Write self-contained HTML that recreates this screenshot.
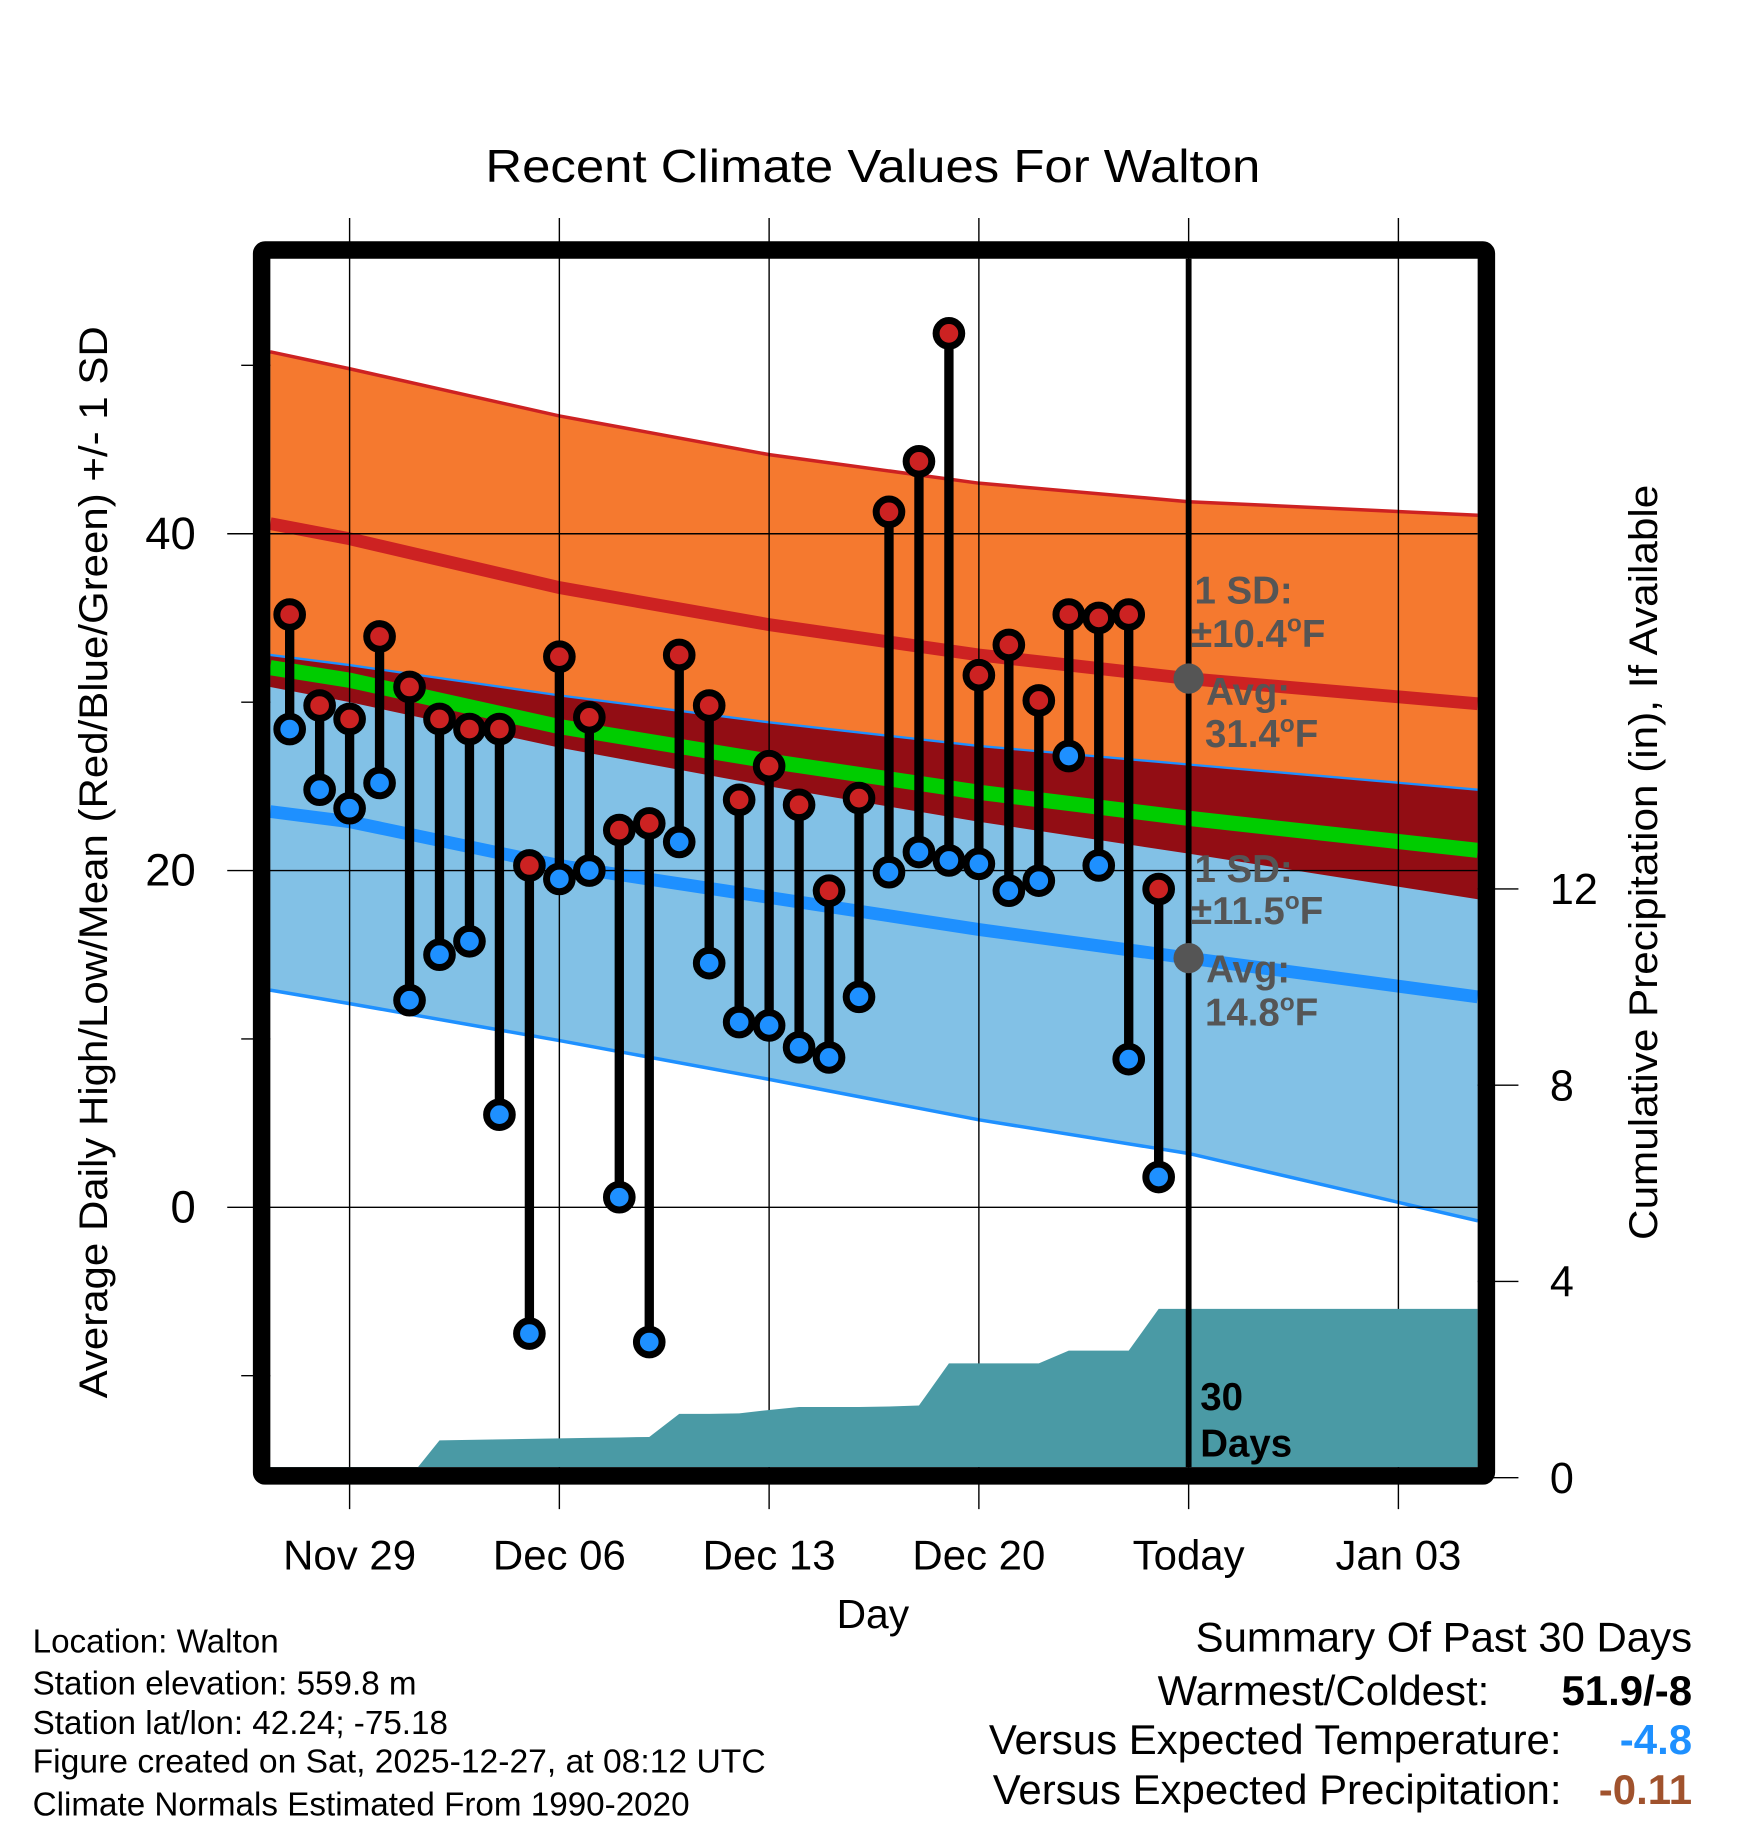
<!DOCTYPE html>
<html><head><meta charset="utf-8"><style>
html,body{margin:0;padding:0;background:#fff}
svg{display:block;font-family:"Liberation Sans",sans-serif}
</style></head><body>
<svg id="chart" width="1748" height="1828" viewBox="0 0 1500 1568.6" xmlns="http://www.w3.org/2000/svg">
<g id="bands"></g>
<g id="grid"></g>
<g id="precip"></g>
<g id="marks"></g>
<g id="frame"></g>
<g id="labels"></g>
<text x="749" y="156" font-size="40" text-anchor="middle" textLength="665" lengthAdjust="spacingAndGlyphs">Recent Climate Values For Walton</text>
<text transform="translate(92,740) rotate(-90)" font-size="34" text-anchor="middle" textLength="920" lengthAdjust="spacingAndGlyphs">Average Daily High/Low/Mean (Red/Blue/Green) +/- 1 SD</text>
<text transform="translate(1422,740) rotate(-90)" font-size="34" text-anchor="middle" textLength="648" lengthAdjust="spacingAndGlyphs">Cumulative Precipitation (in), If Available</text>
<text x="749" y="1397" font-size="35" text-anchor="middle">Day</text>
<g font-size="28.5">
<text x="28" y="1418">Location: Walton</text>
<text x="28" y="1454">Station elevation: 559.8 m</text>
<text x="28" y="1488">Station lat/lon: 42.24; -75.18</text>
<text x="28" y="1521" textLength="629" lengthAdjust="spacingAndGlyphs">Figure created on Sat, 2025-12-27, at 08:12 UTC</text>
<text x="28" y="1558">Climate Normals Estimated From 1990-2020</text>
</g>
<g font-size="36">
<text x="1452" y="1417" text-anchor="end">Summary Of Past 30 Days</text>
<text x="1278" y="1463" text-anchor="end">Warmest/Coldest:</text>
<text x="1452" y="1463" text-anchor="end" font-weight="bold">51.9/-8</text>
<text x="1340" y="1505" text-anchor="end">Versus Expected Temperature:</text>
<text x="1452" y="1505" text-anchor="end" font-weight="bold" fill="#1e90ff">-4.8</text>
<text x="1340" y="1548" text-anchor="end">Versus Expected Precipitation:</text>
<text x="1452" y="1548" text-anchor="end" font-weight="bold" fill="#a0522d">-0.11</text>
</g>
</svg>
<script>
// ---- data ----
const dataDays = [-2,-1,0,1,2,3,4,5,6,7,8,9,10,11,12,13,14,15,16,17,18,19,20,21,22,23,24,25,26,27];
const highs = [35.2,29.8,29.0,33.9,30.9,29.0,28.4,28.4,20.3,32.7,29.1,22.4,22.8,32.8,29.8,24.2,26.2,23.9,18.8,24.3,41.3,44.3,51.9,31.6,33.4,30.1,35.2,35.0,35.2,18.9];
const lows = [28.4,24.8,23.7,25.2,12.3,15.0,15.8,5.5,-7.5,19.5,20.0,0.6,-8.0,21.7,14.5,11.0,10.8,9.5,8.9,12.5,19.9,21.1,20.6,20.4,18.8,19.4,26.8,20.3,8.8,1.8];
const precip = [0,0,0,0,0,0.76,0.77,0.78,0.79,0.80,0.81,0.82,0.83,1.30,1.30,1.31,1.38,1.44,1.44,1.44,1.45,1.47,2.33,2.33,2.33,2.33,2.59,2.59,2.59,3.44];
const normDays = [-2.65,0,7,14,21,28,37.65];
const highUpper = [50.8,49.8,47.0,44.7,43.0,41.9,41.1];
const highAvg = [40.6,39.7,36.8,34.6,32.8,31.4,29.9];
const highLower = [30.9,30.0,27.3,25.0,22.9,21.0,18.3];
const lowUpper = [32.8,32.2,30.4,28.8,27.4,26.3,24.8];
const lowAvg = [23.5,22.9,20.3,18.4,16.5,14.8,12.5];
const lowLower = [12.9,12.1,9.9,7.6,5.2,3.2,-0.8];
const xTickDays = [0,7,14,21,28,35];
const xTickLabels = ["Nov 29","Dec 06","Dec 13","Dec 20","Today","Jan 03"];
const yTicks = [40,20,0];
const yMinorTicks = [50,30,10,-10];
const y2Ticks = [0,4,8,12];
const todayDay = 28;

// ---- scales ----
const PL=232,PR=1268,PT=222,PB=1259;
const x = d => 300 + d*(180/7);
const y = t => 1036 - t*14.45;
const yp = p => 1268 - p*42.1;
const NS='http://www.w3.org/2000/svg';
function mk(tag, parent, attrs){const e=document.createElementNS(NS,tag);for(const k in attrs)e.setAttribute(k,attrs[k]);parent.appendChild(e);return e;}
const pts = arr => arr.map((v,i)=>x(normDays[i]).toFixed(1)+','+y(v).toFixed(1));
const band = (a,b) => pts(a).concat(pts(b).reverse()).join(' ');

const bands=document.getElementById('bands');
let e;
e=mk('polygon',bands,{points:band(highUpper,highLower),fill:'#f5792f'});


e=mk('polygon',bands,{points:band(lowUpper,lowLower),fill:'#82c1e6'});


e=mk('polygon',bands,{points:band(lowUpper,highLower),fill:'#920d14'});


const meanArr = highAvg.map((v,i)=>(v+lowAvg[i])/2);
e=mk('polyline',bands,{points:pts(meanArr).join(' '),fill:'none',stroke:'#00cc00','stroke-width':13});


e=mk('polyline',bands,{points:pts(highAvg).join(' '),fill:'none',stroke:'#cd2222','stroke-width':11});


e=mk('polyline',bands,{points:pts(lowAvg).join(' '),fill:'none',stroke:'#1e90ff','stroke-width':11});


e=mk('polyline',bands,{points:pts(highUpper).join(' '),fill:'none',stroke:'#cd2222','stroke-width':3});


e=mk('polyline',bands,{points:pts(lowUpper).join(' '),fill:'none',stroke:'#1e90ff','stroke-width':2});


e=mk('polyline',bands,{points:pts(lowLower).join(' '),fill:'none',stroke:'#1e90ff','stroke-width':3});



// grid
const grid=document.getElementById('grid');
xTickDays.forEach((d,i)=>{
  e=mk('line',grid,{x1:x(d),x2:x(d),y1:187,y2:1295,stroke:'#000','stroke-width':1.2});
  
  
});
yTicks.forEach(t=>{
  e=mk('line',grid,{x1:195,x2:PR,y1:y(t),y2:y(t),stroke:'#000','stroke-width':1.2});
  
  
});
yMinorTicks.forEach(t=>{
  e=mk('line',grid,{x1:207,x2:PL,y1:y(t),y2:y(t),stroke:'#000','stroke-width':1.2});
  
  
});
y2Ticks.forEach(p=>{
  e=mk('line',grid,{x1:PR,x2:1303,y1:yp(p),y2:yp(p),stroke:'#000','stroke-width':1.2});
  
  
});

// precip
const pg=document.getElementById('precip');
let pp=[PL+','+PB, PL+','+yp(0)];
dataDays.forEach((d,i)=>pp.push(x(d)+','+yp(precip[i])));
pp.push(PR+','+yp(precip[precip.length-1]));
pp.push(PR+','+PB);
e=mk('polygon',pg,{points:pp.join(' '),fill:'#4a9aa5'});



// today line
e=mk('line',pg,{x1:x(todayDay),x2:x(todayDay),y1:PT,y2:PB,stroke:'#000','stroke-width':5});



// marks
const mg=document.getElementById('marks');
dataDays.forEach((d,i)=>{
  e=mk('line',mg,{x1:x(d),x2:x(d),y1:y(highs[i]),y2:y(lows[i]),stroke:'#000','stroke-width':8});
  
  
  e=mk('circle',mg,{cx:x(d),cy:y(lows[i]),r:11,fill:'#1e90ff',stroke:'#000','stroke-width':6});
  
  
  e=mk('circle',mg,{cx:x(d),cy:y(highs[i]),r:11,fill:'#cc2222',stroke:'#000','stroke-width':6});
  
  
});
e=mk('circle',mg,{cx:x(todayDay),cy:y(highAvg[5]),r:13,fill:'#555'});


e=mk('circle',mg,{cx:x(todayDay),cy:y(lowAvg[5]),r:13,fill:'#555'});



// annotations
function ann(txt,xx,yy,name,col){
  const t=mk('text',mg,{x:xx,y:yy,'font-size':33,'font-weight':'bold',fill:col||'#555'});
  
  
  const m=txt.match(/^(.*?)(°)(F)$/);
  if(m){t.textContent=m[1];const s=mk('tspan',t,{'font-size':21,dy:-13});s.textContent='o';const f=mk('tspan',t,{dy:13});f.textContent='F';}
  else t.textContent=txt;
}
ann('1 SD:',1025,518,'high-sd-label');
ann('±10.4°F',1022,555,'high-sd-value');
ann('Avg:',1035,605,'high-avg-label');
ann('31.4°F',1034,641,'high-avg-value');
ann('1 SD:',1025,757,'low-sd-label');
ann('±11.5°F',1022,793,'low-sd-value');
ann('Avg:',1035,843,'low-avg-label');
ann('14.8°F',1034,880,'low-avg-value');
ann('30',1030,1210,'days-label-number','#000');
ann('Days',1030,1250,'days-label-text','#000');

// frame
const fr=document.getElementById('frame');
e=mk('rect',fr,{x:224.5,y:214.5,width:1051,height:1052,fill:'none',stroke:'#000','stroke-width':15,rx:3});



// labels
const lg=document.getElementById('labels');
xTickDays.forEach((d,i)=>{
  e=mk('text',lg,{x:x(d),y:1347,'font-size':36,'text-anchor':'middle'});
  e.textContent=xTickLabels[i];
  
  
});
yTicks.forEach(t=>{
  e=mk('text',lg,{x:168,y:y(t)+13,'font-size':39,'text-anchor':'end'});
  e.textContent=t;
  
  
});
y2Ticks.forEach(p=>{
  e=mk('text',lg,{x:1330,y:yp(p)+13,'font-size':37});
  e.textContent=p;
  
  
});
</script>
</body></html>
